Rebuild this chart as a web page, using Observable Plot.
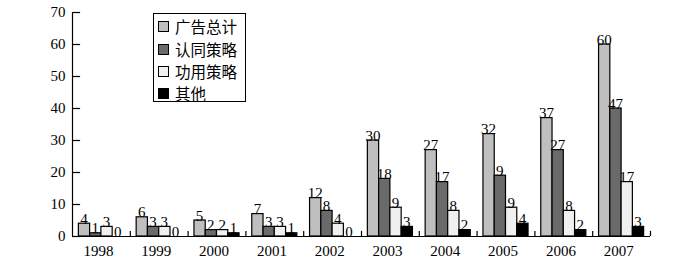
<!DOCTYPE html>
<html>
<head>
<meta charset="utf-8">
<script src="https://cdn.jsdelivr.net/npm/d3@7"></script>
<script src="https://cdn.jsdelivr.net/npm/@observablehq/plot@0.6"></script>
<style>
  html, body { margin: 0; padding: 0; background: #fff; }
  #wrap { position: relative; width: 700px; height: 261px; }
  #legend { position: absolute; left: 153px; top: 13px; width: 93px; height: 89px;
    border: 1.5px solid #000; background: #fff; box-sizing: border-box;
    font-family: "Noto Sans CJK SC", sans-serif; font-size: 15.5px; line-height: 16px; color: #000; }
  .item { position: absolute; left: 4px; display: flex; align-items: center; height: 16px; white-space: nowrap; }
  .sw { width: 9px; height: 9px; border: 1px solid #000; margin-right: 6px; flex: none; }
</style>
</head>
<body>
<div id="wrap"><div id="chart"></div><div id="legend"></div></div>
<script>
const years = ["1998","1999","2000","2001","2002","2003","2004","2005","2006","2007"];
const seriesNames = ["广告总计","认同策略","功用策略","其他"];
const seriesColors = ["#bfbfbf","#6a6a6a","#f0f0f0","#000000"];
// bar heights as drawn
const adTotal   = [4, 6, 5, 7, 12, 30, 27, 32, 37, 60];
const identity  = [1, 3, 2, 3, 8, 18, 17, 19, 27, 40];
const utility   = [3, 3, 2, 3, 4, 9, 8, 9, 8, 17];
const other     = [0, 0, 1, 1, 0, 3, 2, 4, 2, 3];
// value labels as printed
const adTotalLabels  = ["4","6","5","7","12","30","27","32","37","60"];
const identityLabels = ["1","3","2","3","8","18","17","9","27","47"];
const utilityLabels  = ["3","3","2","3","4","9","8","9","8","17"];
const otherLabels    = ["0","0","1","1","0","3","2","4","2","3"];
const yTicks = [0,10,20,30,40,50,60,70];

const seriesValues = [adTotal, identity, utility, other];
const seriesLabels = [adTotalLabels, identityLabels, utilityLabels, otherLabels];
const pad = 0.11, bw = 0.195;
const rows = [];
years.forEach((yr, i) => seriesNames.forEach((s, k) => rows.push({
  i, k, s, value: seriesValues[k][i], label: seriesLabels[k][i],
  x1: i + pad + k * bw, x2: i + pad + (k + 1) * bw
})));

const font = "Liberation Serif";
const chart = Plot.plot({
  width: 700, height: 261,
  marginLeft: 72, marginRight: 50, marginTop: 12, marginBottom: 25,
  style: {background: "#fff", color: "#000"},
  x: {type: "linear", domain: [0, years.length], axis: null},
  y: {domain: [0, 70], axis: null},
  marks: [
    Plot.rectY(rows, {x1: "x1", x2: "x2", y1: 0, y2: "value",
      fill: d => seriesColors[d.k], stroke: "#000", strokeWidth: 1.2}),
    Plot.text(rows, {x: d => (d.x1 + d.x2) / 2, y: "value", text: "label",
      lineAnchor: "bottom", dy: 0, dx: -0.5, fontSize: 15, fontFamily: font, fill: "#000"}),
    // y axis
    Plot.ruleX([0], {y1: 0, y2: 70, stroke: "#000", strokeWidth: 1.2}),
    Plot.ruleY(yTicks, {x1: 0, x2: 0.14, stroke: "#000", strokeWidth: 1.2}),
    Plot.text(yTicks, {x: 0, y: d => d, text: d => String(d), textAnchor: "end", dx: -7, fontSize: 15, fontFamily: font, fill: "#000"}),
    // x axis
    Plot.ruleY([0], {x1: 0, x2: years.length, stroke: "#000", strokeWidth: 1.2}),
    Plot.ruleX(d3.range(1, years.length + 1), {y1: 0, y2: 1.6, stroke: "#000", strokeWidth: 1.2}),
    Plot.text(years, {x: (d, i) => i + 0.45, y: 0, text: d => d, dy: 15, fontSize: 15, fontFamily: font, fill: "#000"})
  ]
});
document.getElementById("chart").appendChild(chart);

const legend = document.getElementById("legend");
const rowTops = [4, 27, 49, 71];
seriesNames.forEach((s, k) => {
  const it = document.createElement("div");
  it.className = "item";
  it.style.top = rowTops[k] + "px";
  it.innerHTML = `<span class="sw" style="background:${seriesColors[k]}"></span><span>${s}</span>`;
  legend.appendChild(it);
});
</script>
</body>
</html>
